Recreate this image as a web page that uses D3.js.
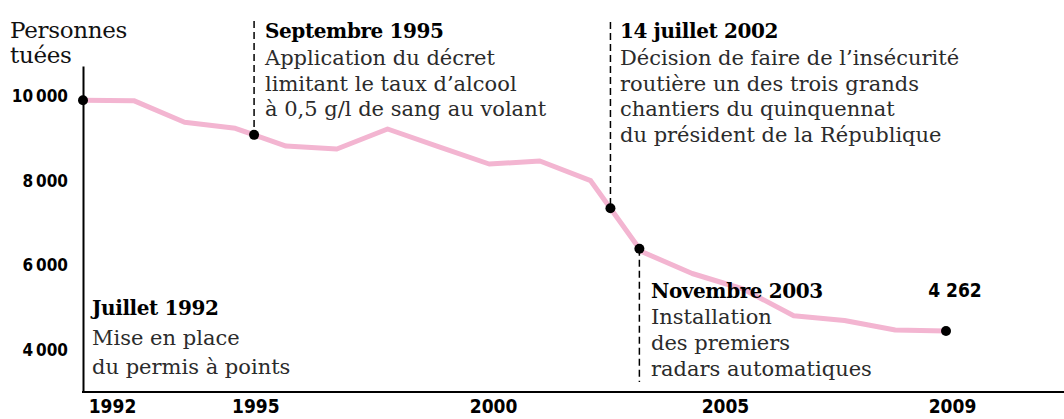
<!DOCTYPE html>
<html><head><meta charset="utf-8">
<script src="https://cdn.jsdelivr.net/npm/d3@7"></script>
<style>html,body{margin:0;padding:0;background:#fff;} svg{display:block}</style>
</head><body><svg id="chart" width="1064" height="419"></svg>
<script>
// ---------- data ----------
const years  = [1992,1993,1994,1995,1996,1997,1998,1999,2000,2001,2002,2003,2004,2005,2006,2007,2008,2009];
const deaths = [9910,9900,9387,9245,8825,8754,9228,8813,8399,8470,8004,6327,5806,5439,4807,4693,4468,4444];
const yTicks = [4000,6000,8000,10000];
const xTickYears  = [1992,1995,2000,2005,2009];
const xTickLabels = ["1992","1995","2000","2005","2009"];
const yTitle = ["Personnes","tuées"];
const eventDates  = [1992, 1995.37, 2002.39, 2002.96];
const eventTitles = ["Juillet 1992","Septembre 1995","14 juillet 2002","Novembre 2003"];
const eventTexts  = [
  ["Mise en place","du permis à points"],
  ["Application du décret","limitant le taux d\u2019alcool","à 0,5 g/l de sang au volant"],
  ["Décision de faire de l\u2019insécurité","routière un des trois grands","chantiers du quinquennat","du président de la République"],
  ["Installation","des premiers","radars automatiques"]
];
const lastLabel = "4\u00a0262";

// ---------- layout ----------
const W = 1064, H = 419;
const svg = d3.select("#chart");
const x = d3.scaleLinear().domain([1992, 2009]).range([83, 946]);
const y = d3.scaleLinear().domain([3000, 10720]).range([392, 66]);
const valueAt = d3.scaleLinear().domain(years).range(deaths);

const serif = "'DejaVu Serif', serif";
const sansB = "'DejaVu Sans Condensed', 'DejaVu Sans', sans-serif";
const fr = d3.formatLocale({decimal: ",", thousands: "\u202f", grouping: [3], currency: ["", " €"]});
const fmt = fr.format(",d");

// y title
svg.append("g").selectAll("text").data(yTitle).join("text")
  .attr("x", 10).attr("y", (d, i) => 38 + i * 25)
  .attr("font-family", serif).attr("font-size", 23).attr("fill", "#111")
  .attr("letter-spacing", -0.3)
  .text(d => d);

// y axis
const gy = svg.append("g").attr("transform", "translate(83,0)")
  .call(d3.axisLeft(y).tickValues(yTicks).tickSize(0).tickPadding(15).tickFormat(fmt));
gy.select(".domain").attr("stroke", "#000").attr("stroke-width", 2);
gy.selectAll("text").attr("font-family", sansB).attr("font-weight", "bold")
  .attr("font-size", 17).attr("fill", "#000");

// x axis
const gx = svg.append("g").attr("transform", "translate(0,392)")
  .call(d3.axisBottom(x).tickValues(xTickYears).tickSize(0).tickPadding(7.5)
    .tickFormat((d, i) => xTickLabels[i]));
gx.select(".domain").remove();
gx.append("line").attr("x1", x.range()[0] - 1).attr("x2", W).attr("stroke", "#000").attr("stroke-width", 2);
const nudge = [29, 20, 4, -18, 6];
gx.selectAll(".tick text")
  .attr("dx", (d, i) => nudge[i])
  .attr("font-family", sansB).attr("font-weight", "bold").attr("font-size", 19).attr("fill", "#000");

// line
const line = d3.line().x((d, i) => x(years[i])).y(d => y(d));
svg.append("path").datum(deaths)
  .attr("d", line).attr("fill", "none")
  .attr("stroke", "#f3b5d1").attr("stroke-width", 5).attr("stroke-linejoin", "round");

// event dashed lines
const dashLayout = [null, {y1: 21}, {y1: 22}, {y2: 382}];
eventDates.forEach((d, i) => {
  const L = dashLayout[i]; if (!L) return;
  const ex = x(d), ey = y(valueAt(d));
  svg.append("line")
    .attr("x1", ex).attr("x2", ex)
    .attr("y1", L.y1 !== undefined ? L.y1 : ey)
    .attr("y2", L.y2 !== undefined ? L.y2 : ey)
    .attr("stroke", "#000").attr("stroke-width", 1.5).attr("stroke-dasharray", "7,4");
});

// annotations text
const textLayout = [
  {x: 92,  ys: [315, 345, 374]},
  {x: 265, ys: [37.5, 64.5, 90.5, 116]},
  {x: 620, ys: [38, 65, 90.5, 116, 141.5]},
  {x: 651, ys: [298, 324, 350, 376]}
];
eventTitles.forEach((t, i) => {
  const L = textLayout[i];
  const g = svg.append("g");
  g.append("text").attr("x", L.x).attr("y", L.ys[0])
    .attr("font-family", serif).attr("font-weight", "bold").attr("font-size", 20)
    .attr("fill", "#000").attr("letter-spacing", -0.4).text(t);
  g.selectAll("text.body").data(eventTexts[i]).join("text").attr("class", "body")
    .attr("x", L.x).attr("y", (d, j) => L.ys[j + 1])
    .attr("font-family", serif).attr("font-size", 21).attr("fill", "#2b2b2b")
    .text(d => d);
});

// dots
const dotDates = eventDates.concat([years[years.length - 1]]);
svg.append("g").selectAll("circle").data(dotDates).join("circle")
  .attr("cx", d => x(d)).attr("cy", d => y(valueAt(d))).attr("r", 5).attr("fill", "#000");

// last value label
svg.append("text").attr("x", x(2009) + 9).attr("y", 297)
  .attr("text-anchor", "middle").attr("font-family", sansB).attr("font-weight", "bold")
  .attr("font-size", 19).attr("fill", "#000").text(lastLabel);
</script></body></html>
